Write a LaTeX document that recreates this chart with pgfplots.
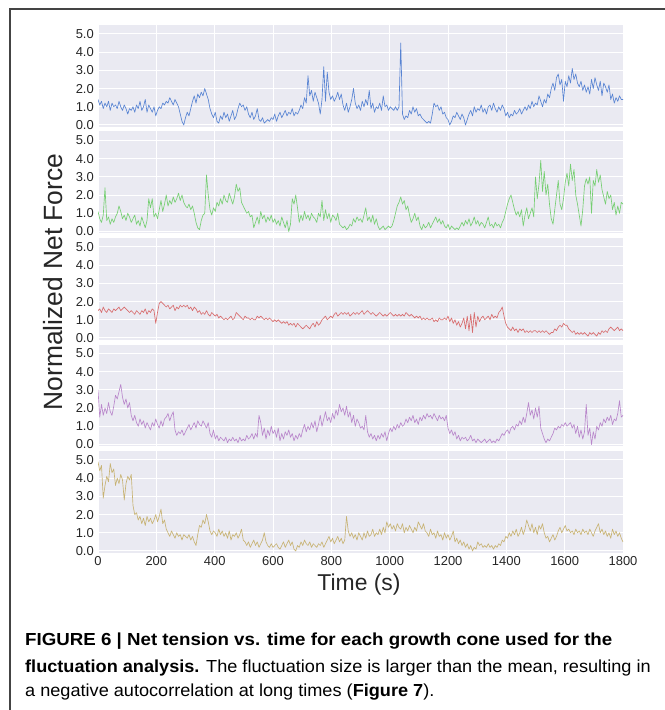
\documentclass[border=0pt]{standalone}
\usepackage{pgfplots}
\usepackage{pgfplotstable}
\pgfplotsset{compat=1.18}
\usepackage{fontspec}
\setmainfont{Liberation Sans}
\newfontfamily\capfont[FakeStretch=1.04]{Liberation Sans}
\definecolor{bgc}{HTML}{EAEAF2}
\definecolor{tickc}{HTML}{262626}
\definecolor{cb}{HTML}{4878CF}
\definecolor{cg}{HTML}{6ACC65}
\definecolor{cr}{HTML}{D65F5F}
\definecolor{cp}{HTML}{B47CC7}
\definecolor{cy}{HTML}{C4AD66}
\definecolor{framec}{HTML}{444444}

\pgfplotstableread{
t b g r p y
0 1.4 1.1 1.5 3.0 4.9
6 1.1 0.7 1.6 1.5 4.4
12 1.3 0.5 1.4 2.2 4.7
18 0.9 0.9 1.7 1.6 2.9
24 1.2 2.4 1.5 2.0 3.6
30 1.0 0.6 1.4 1.7 4.1
36 1.3 0.8 1.6 2.3 3.8
42 0.8 0.4 1.5 1.8 4.8
48 1.2 0.7 1.4 1.6 4.3
54 1.0 0.5 1.6 2.1 4.5
60 1.1 0.8 1.5 2.7 3.6
66 0.9 1.0 1.6 2.5 4.0
72 1.3 1.4 1.7 2.9 3.7
78 1.0 1.1 1.5 3.3 4.2
84 0.8 0.7 1.6 2.6 3.9
90 1.1 0.9 1.7 2.2 2.8
96 0.9 0.6 1.6 2.5 3.7
102 0.6 1.0 1.5 2.0 4.1
108 0.9 0.8 1.4 2.3 3.9
114 0.8 0.5 1.5 1.6 4.2
120 1.0 0.7 1.4 1.3 2.5
126 0.7 0.9 1.3 1.6 2.0
132 1.1 0.4 1.5 1.2 2.1
138 0.9 0.6 1.4 1.0 1.7
144 1.3 0.3 1.3 1.4 1.9
150 0.8 0.8 1.5 1.1 1.5
156 1.0 0.5 1.4 1.3 1.8
162 1.4 0.2 1.6 0.9 1.4
168 0.7 0.6 1.3 1.2 1.9
174 1.1 1.8 1.5 1.0 1.6
180 0.9 1.3 1.4 0.8 1.8
186 0.7 1.8 1.6 1.2 1.5
192 1.0 0.8 1.5 1.0 1.7
198 0.5 1.0 0.8 1.4 2.0
204 0.8 0.7 1.4 1.1 1.6
210 1.0 1.2 1.9 0.9 1.9
216 0.9 1.7 2.0 1.3 2.3
222 1.2 1.1 1.9 1.0 1.5
228 1.1 1.5 1.8 1.4 1.7
234 1.3 2.0 1.7 1.5 1.2
240 1.2 1.4 1.8 1.7 1.0
246 1.5 1.7 1.6 1.3 0.8
252 1.3 1.5 1.7 1.6 1.1
258 1.1 1.9 1.8 1.8 0.9
264 1.4 1.6 1.5 0.8 0.7
270 1.2 1.8 1.7 0.5 1.0
276 1.0 2.1 1.6 0.7 0.8
282 0.6 1.7 1.8 0.6 0.9
288 0.2 2.0 1.7 0.8 0.6
294 0.0 1.6 1.8 0.5 0.9
300 0.4 1.4 1.7 0.7 0.8
306 0.7 1.3 1.8 0.9 0.7
312 0.5 1.5 1.6 1.1 0.9
318 0.9 1.2 1.7 0.8 0.6
324 1.3 1.4 1.5 1.0 0.8
330 1.6 1.0 1.7 1.2 0.5
336 1.2 0.5 1.6 0.9 0.3
342 1.7 0.2 1.4 1.3 0.9
348 1.5 0.1 1.5 1.1 1.4
354 1.8 0.6 1.3 1.0 1.3
360 1.6 0.9 1.4 1.3 1.7
366 2.0 1.0 1.3 1.1 1.5
372 1.7 3.1 1.5 0.9 2.0
378 1.4 2.0 1.3 1.2 1.6
384 0.9 1.2 1.2 0.6 1.1
390 0.6 0.9 1.4 0.4 0.9
396 0.4 1.3 1.3 0.8 1.1
402 0.7 1.1 1.2 0.3 1.0
408 0.2 1.6 1.3 0.5 0.8
414 0.1 1.4 1.1 0.2 1.2
420 0.5 1.8 1.2 0.4 0.9
426 0.3 1.5 1.1 0.3 1.1
432 0.7 2.0 1.0 0.2 0.8
438 0.4 1.7 1.1 0.4 1.0
444 0.6 1.6 1.0 0.1 0.7
450 0.2 2.1 1.1 0.3 1.1
456 0.5 1.8 1.2 0.2 0.6
462 0.8 1.5 1.0 0.4 0.9
468 0.3 1.9 1.1 0.2 0.8
474 0.5 2.6 1.4 0.3 1.0
480 0.9 2.2 1.3 0.1 0.7
486 1.2 2.4 1.2 0.4 0.9
492 1.0 1.6 1.1 0.2 1.2
498 1.1 1.4 1.0 0.3 0.6
504 0.8 1.2 1.2 0.2 0.5
510 1.0 1.0 1.1 0.5 0.3
516 0.6 1.1 1.1 0.3 0.5
522 0.4 0.8 1.0 0.4 0.2
528 0.7 0.9 1.1 0.6 0.4
534 0.3 0.2 1.0 0.3 0.6
540 0.5 0.5 1.0 0.6 0.3
546 0.9 0.8 1.2 0.4 0.5
552 0.3 0.4 1.1 1.6 0.2
558 0.2 1.1 1.2 1.2 0.4
564 0.4 0.7 1.1 0.5 0.6
570 0.1 0.9 1.0 0.9 1.0
576 0.2 0.5 1.1 0.3 0.5
582 0.3 0.8 1.0 0.8 0.3
588 0.2 0.6 1.1 0.5 0.2
594 0.4 0.9 1.0 1.0 0.4
600 0.3 0.5 0.9 0.6 0.2
606 0.6 0.7 1.0 0.8 0.3
612 0.2 0.4 0.9 0.4 0.4
618 0.5 0.6 1.0 0.9 0.2
624 0.7 0.3 0.9 0.2 0.1
630 0.4 0.8 0.8 0.6 0.3
636 0.6 0.5 0.9 0.3 0.5
642 0.8 0.2 0.8 0.7 0.2
648 0.5 0.6 0.9 0.5 0.4
654 0.7 0.0 0.7 0.8 0.6
660 0.6 0.4 0.8 0.4 0.3
666 0.9 1.8 0.7 0.6 0.5
672 0.5 1.5 0.8 0.2 0.1
678 0.7 2.0 0.6 0.5 0.0
684 0.6 1.3 0.8 0.3 0.3
690 0.8 0.5 0.7 0.6 0.2
696 1.1 0.9 0.6 0.4 0.5
702 0.9 0.6 0.5 0.8 0.3
708 1.5 1.1 0.6 1.1 0.6
714 1.2 0.7 0.7 0.7 0.4
720 2.7 0.9 0.6 1.0 0.3
726 1.6 0.6 0.5 0.8 0.5
732 1.9 1.0 0.7 1.2 0.2
738 1.3 0.8 0.8 0.9 0.4
744 1.8 0.7 0.6 1.3 0.3
750 1.5 0.5 0.9 0.7 0.2
756 1.2 1.0 0.7 1.1 0.4
762 0.6 0.8 0.8 1.6 0.3
768 1.4 1.7 1.0 1.0 0.5
774 3.2 0.6 1.1 1.4 0.2
780 1.3 1.2 1.2 1.8 0.4
786 2.9 0.7 1.0 1.3 0.6
792 1.8 1.0 1.1 1.5 0.8
798 1.4 0.5 1.2 1.2 0.5
804 1.6 0.9 1.1 1.7 0.7
810 1.3 0.8 1.3 1.4 0.4
816 1.5 0.6 1.4 1.9 0.6
822 1.8 1.0 1.2 1.6 0.8
828 1.4 0.4 1.3 2.2 0.5
834 1.7 0.3 1.4 1.8 0.7
840 1.1 0.2 1.3 2.0 0.4
846 0.8 0.3 1.4 1.6 0.6
852 1.2 0.1 1.3 2.1 1.9
858 0.7 0.2 1.4 1.5 1.1
864 1.0 0.4 1.2 1.8 0.8
870 1.4 0.3 1.3 1.2 1.0
876 2.0 0.7 1.4 1.6 0.7
882 1.2 0.5 1.3 1.0 0.9
888 0.9 0.8 1.4 1.4 0.6
894 1.1 0.6 1.3 1.2 1.0
900 0.8 0.7 1.4 0.9 0.8
906 1.3 0.5 1.5 1.0 0.6
912 1.0 0.9 1.3 0.8 1.0
918 1.4 1.3 1.4 1.6 0.7
924 1.1 0.6 1.5 0.7 1.1
930 1.9 0.8 1.4 0.4 0.8
936 0.9 0.5 1.3 0.6 0.9
942 1.2 0.9 1.4 0.3 1.2
948 0.7 0.4 1.3 0.5 0.8
954 1.0 0.7 1.2 0.2 1.0
960 0.9 0.3 1.3 0.5 0.9
966 1.2 0.1 1.4 0.3 1.2
972 0.8 0.2 1.3 0.6 0.9
978 1.6 0.3 1.2 0.4 1.3
984 1.0 0.1 1.3 0.7 1.0
990 1.1 0.2 1.2 0.2 1.6
996 0.8 0.3 1.3 0.6 1.3
1002 1.0 0.2 1.4 0.9 1.5
1008 0.9 0.3 1.3 0.7 1.2
1014 0.8 0.6 1.2 1.0 1.4
1020 1.0 1.0 1.3 0.8 1.1
1026 0.8 1.4 1.2 1.1 1.5
1032 1.0 1.6 1.3 0.9 1.3
1038 4.5 1.9 1.2 1.2 1.2
1044 0.6 1.5 1.3 1.0 1.5
1050 0.3 1.7 1.2 1.1 1.0
1056 0.5 1.2 1.4 1.4 1.3
1062 0.4 1.4 1.3 1.2 1.1
1068 0.8 0.9 1.2 1.5 1.4
1074 0.6 0.5 1.3 1.3 1.2
1080 1.0 0.7 1.2 1.6 1.0
1086 0.7 1.0 1.1 1.2 1.3
1092 0.9 0.6 1.2 1.4 1.1
1098 0.5 0.8 1.1 1.1 1.6
1104 0.6 0.3 1.2 1.5 1.4
1110 0.4 0.1 1.0 1.3 1.2
1116 0.3 0.4 1.1 1.6 1.5
1122 0.2 0.2 1.0 1.4 1.1
1128 0.1 0.3 1.1 1.7 1.0
1134 0.2 0.5 1.0 1.5 0.8
1140 0.1 0.2 1.0 1.6 1.2
1146 0.6 0.4 1.1 1.4 0.9
1152 1.2 0.6 0.9 1.7 1.0
1158 1.0 0.8 1.0 1.5 0.7
1164 1.1 0.5 0.9 1.3 1.1
1170 0.8 0.7 1.1 1.6 0.8
1176 1.0 0.4 1.0 1.4 0.9
1182 0.6 0.6 1.0 1.5 0.6
1188 0.7 0.3 1.1 1.3 1.0
1194 0.4 0.2 1.0 1.6 0.7
1200 0.3 0.4 1.2 0.9 0.9
1206 0.0 0.1 0.9 0.6 0.6
1212 0.2 0.3 1.1 0.8 0.8
1218 0.5 0.2 0.8 0.5 1.1
1224 0.4 0.1 1.0 0.7 0.5
1230 0.7 0.2 0.7 0.3 0.7
1236 0.5 0.1 0.9 0.5 0.4
1242 0.3 0.3 0.6 0.2 0.6
1248 0.6 0.5 0.8 0.4 0.3
1254 0.4 0.3 1.1 0.3 0.5
1260 0.0 0.6 0.5 0.4 0.2
1266 0.3 0.4 1.2 0.2 0.4
1272 0.6 0.7 0.4 0.3 0.1
1278 0.8 0.3 1.3 0.5 0.3
1284 0.5 0.5 0.3 0.2 0.0
1290 1.0 0.8 1.4 0.3 0.2
1296 0.7 0.4 0.6 0.1 0.1
1302 0.9 0.6 1.2 0.3 0.5
1308 0.8 0.3 0.9 0.2 0.3
1314 1.1 0.5 1.1 0.1 0.4
1320 0.7 0.4 1.2 0.2 0.2
1326 0.9 0.2 1.0 0.3 0.3
1332 0.6 0.5 1.1 0.1 0.2
1338 1.0 0.8 1.2 0.2 0.4
1344 1.1 0.3 1.0 0.3 0.2
1350 0.8 0.4 1.3 0.1 0.3
1356 1.2 0.2 1.1 0.2 0.1
1362 0.9 0.5 1.2 0.1 0.3
1368 0.7 0.3 1.1 0.3 0.2
1374 1.0 0.4 1.4 0.2 0.4
1380 0.8 0.2 1.5 0.4 0.3
1386 1.1 0.5 1.7 0.6 0.6
1392 0.9 0.7 1.2 0.5 0.5
1398 0.5 1.1 0.8 0.7 0.8
1404 0.7 1.5 0.6 0.8 0.7
1410 0.4 1.8 0.5 0.6 1.0
1416 0.6 2.0 0.4 0.9 0.8
1422 0.5 1.6 0.6 1.0 1.1
1428 0.8 1.2 0.4 0.8 0.9
1434 0.6 0.9 0.5 1.1 1.2
1440 0.7 1.1 0.3 1.0 0.8
1446 0.9 0.8 0.5 1.3 1.0
1452 0.6 1.2 0.4 1.1 1.3
1458 0.8 0.3 0.5 1.5 0.9
1464 1.0 0.9 0.3 1.2 1.2
1470 0.8 1.3 0.4 1.7 1.7
1476 1.1 0.7 0.3 2.3 1.4
1482 0.9 1.0 0.4 1.6 1.1
1488 1.3 1.3 0.3 1.9 1.5
1494 1.0 0.8 0.4 1.4 1.0
1500 1.2 3.0 0.4 2.0 1.3
1506 1.1 1.8 0.3 1.5 0.9
1512 1.6 2.6 0.4 2.1 1.4
1518 1.3 3.9 0.3 0.9 1.2
1524 1.0 2.2 0.4 0.6 1.5
1530 1.4 3.3 0.3 0.3 1.0
1536 1.2 2.0 0.4 0.1 0.7
1542 1.7 2.6 0.3 0.3 0.8
1548 1.5 1.5 0.2 0.2 0.5
1554 2.0 0.7 0.3 0.4 0.7
1560 2.3 0.4 0.3 0.6 0.9
1566 1.9 1.2 0.5 0.9 0.6
1572 2.6 2.0 0.4 0.8 0.8
1578 2.8 2.8 0.6 1.0 1.1
1584 2.2 1.5 0.7 0.9 1.3
1590 2.5 1.2 0.6 1.1 1.0
1596 1.3 1.8 0.8 1.0 1.2
1602 2.4 2.7 0.7 1.2 1.4
1608 2.1 3.2 0.7 1.0 1.1
1614 2.7 2.5 0.5 1.1 1.2
1620 2.3 3.7 0.4 1.2 1.0
1626 3.1 2.8 0.3 0.9 1.1
1632 2.5 3.4 0.4 1.1 0.9
1638 2.8 2.0 0.2 0.6 1.2
1644 2.3 1.5 0.3 1.0 1.0
1650 2.1 0.9 0.2 0.4 1.1
1656 2.4 0.3 0.3 0.8 0.9
1662 1.9 1.2 0.2 0.3 1.2
1668 2.2 2.5 0.3 0.7 1.0
1674 1.8 2.9 0.2 2.2 1.1
1680 2.1 2.6 0.1 0.5 0.9
1686 1.7 3.0 0.3 0.9 1.2
1692 2.5 1.0 0.2 0.0 1.0
1698 2.0 2.8 0.3 0.7 0.8
1704 2.6 2.5 0.2 0.3 1.1
1710 2.2 3.4 0.1 1.0 1.3
1716 1.9 2.7 0.3 0.8 1.5
1722 2.4 3.1 0.2 1.2 1.0
1728 1.6 2.3 0.4 1.0 1.2
1734 2.3 1.9 0.3 1.4 0.9
1740 2.1 1.5 0.4 1.2 1.1
1746 1.8 2.2 0.3 1.5 0.8
1752 2.2 1.8 0.5 1.3 1.0
1758 1.4 2.0 0.6 1.6 0.7
1764 1.7 1.2 0.5 1.1 1.2
1770 1.2 1.6 0.4 1.4 0.9
1776 1.5 0.9 0.5 1.3 1.1
1782 1.3 1.4 0.6 1.7 0.8
1788 1.6 1.0 0.4 2.4 1.0
1794 1.4 1.6 0.5 1.5 0.7
1800 1.4 1.5 0.4 1.6 0.5
}\data

\pgfplotsset{
  panel/.style={
    width=525bp, height=102bp, scale only axis,
    xmin=0, xmax=1800, ymin=-0.11, ymax=5.49,
    axis background/.style={fill=bgc},
    axis line style={draw=none},
    grid=major, grid style={white, line width=1bp},
    major tick length=0pt,
    xtick={0,200,400,600,800,1000,1200,1400,1600,1800},
    ytick={0,1,2,3,4,5},
    yticklabels={0.0,1.0,2.0,3.0,4.0,5.0},
    xticklabels={},
    tick label style={font=\fontsize{13}{13}\selectfont, text=tickc},
    yticklabel style={inner sep=0pt, xshift=-4bp},
    /pgf/number format/assume math mode=true,
    every axis plot/.append style={line width=0.65bp, line join=round, opacity=0.9},
  },
}

\begin{document}
\begin{tikzpicture}
\path[use as bounding box] (0,0) rectangle (665bp,710bp);
\draw[framec, line width=1.5bp] (10bp,0bp) -- (10bp,701bp) -- (666bp,701bp);

\begin{axis}[panel, at={(98bp,583bp)}, anchor=south west]
\addplot[cb, no markers] table[x=t, y=b] {\data};
\end{axis}
\begin{axis}[panel, at={(98bp,476.5bp)}, anchor=south west]
\addplot[cg, no markers] table[x=t, y=g] {\data};
\end{axis}
\begin{axis}[panel, at={(98bp,370bp)}, anchor=south west]
\addplot[cr, no markers] table[x=t, y=r] {\data};
\end{axis}
\begin{axis}[panel, at={(98bp,263.5bp)}, anchor=south west]
\addplot[cp, no markers] table[x=t, y=p] {\data};
\end{axis}
\begin{axis}[panel, at={(98bp,157bp)}, anchor=south west,
  xticklabels={0,200,400,600,800,1000,1200,1400,1600,1800},
  xticklabel style={inner sep=0pt, yshift=-3bp}]
\addplot[cy, no markers] table[x=t, y=y] {\data};
\end{axis}

\node[rotate=90, text=tickc, font=\fontsize{26.5}{26.5}\selectfont] at (53bp,428bp) {Normalized Net Force};
\node[text=tickc, font=\fontsize{23}{23}\selectfont] at (359bp,125bp) {Time (s)};

\begin{scope}[font=\capfont\fontsize{17.5}{17.5}\selectfont, text=black]
\node[anchor=base west, inner sep=0pt, xscale=1.032, transform shape] at (25bp,64bp) {\textbf{FIGURE 6 | Net tension vs. time for each growth cone used for the}};
\node[anchor=base west, inner sep=0pt] at (25bp,38bp) {\textbf{fluctuation analysis.} The fluctuation size is larger than the mean, resulting in};
\node[anchor=base west, inner sep=0pt] at (25bp,14bp) {a negative autocorrelation at long times (\textbf{Figure 7}).};
\end{scope}
\end{tikzpicture}
\end{document}
